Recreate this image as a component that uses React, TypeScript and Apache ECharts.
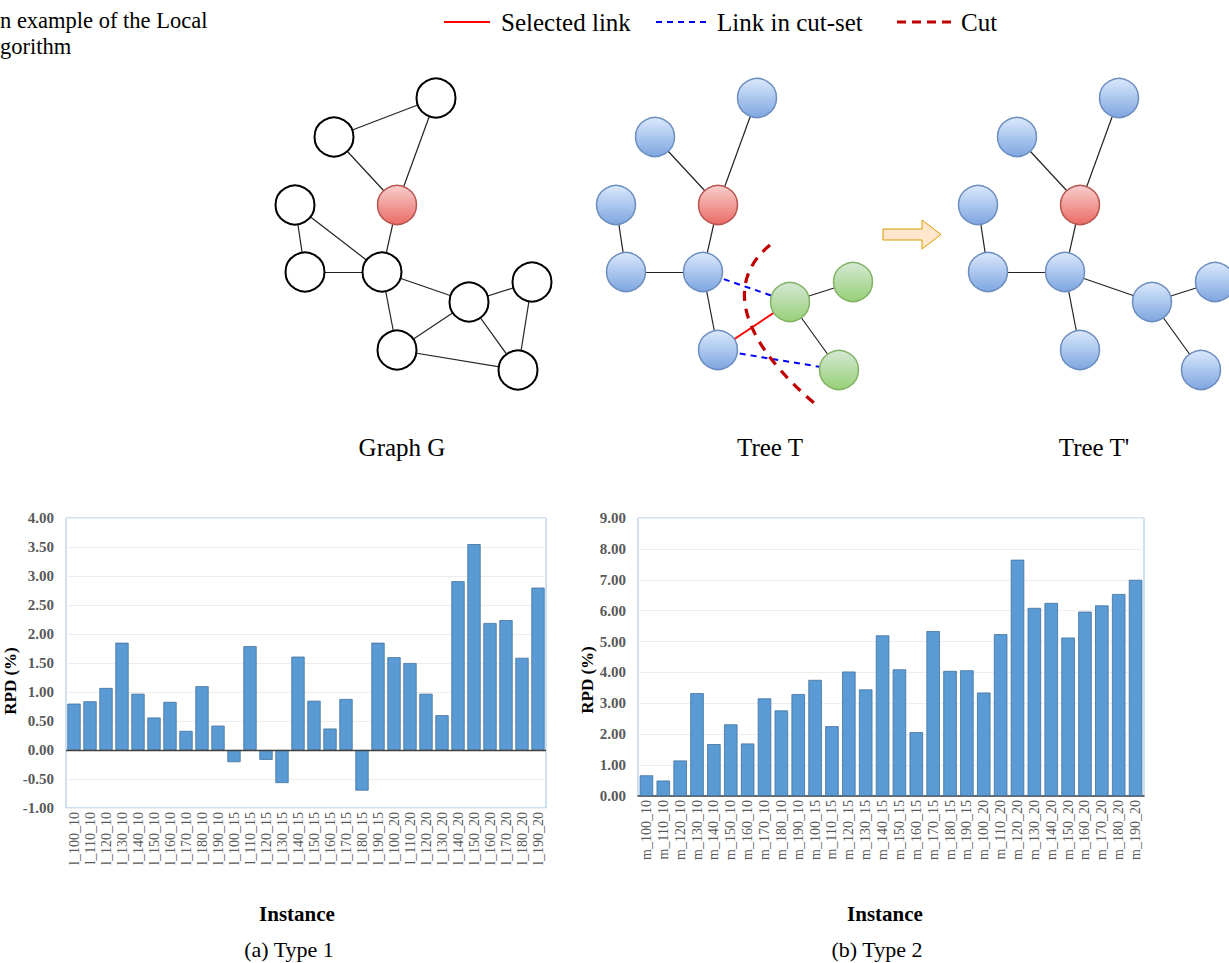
import React, { useEffect, useRef } from "react";
import * as echarts from "echarts";

const SERIF = "Liberation Serif, Times New Roman, serif";

// ---------- bar chart data ----------
const type1Instances = [
  "l_100_10", "l_110_10", "l_120_10", "l_130_10", "l_140_10", "l_150_10", "l_160_10", "l_170_10", "l_180_10", "l_190_10",
  "l_100_15", "l_110_15", "l_120_15", "l_130_15", "l_140_15", "l_150_15", "l_160_15", "l_170_15", "l_180_15", "l_190_15",
  "l_100_20", "l_110_20", "l_120_20", "l_130_20", "l_140_20", "l_150_20", "l_160_20", "l_170_20", "l_180_20", "l_190_20",
];
const type1Rpd = [
  0.8, 0.84, 1.07, 1.85, 0.97, 0.56, 0.83, 0.33, 1.1, 0.42,
  -0.21, 1.79, -0.17, -0.57, 1.61, 0.85, 0.37, 0.88, -0.7, 1.85,
  1.6, 1.5, 0.97, 0.6, 2.91, 3.55, 2.19, 2.24, 1.59, 2.8,
];
const type2Instances = [
  "m_100_10", "m_110_10", "m_120_10", "m_130_10", "m_140_10", "m_150_10", "m_160_10", "m_170_10", "m_180_10", "m_190_10",
  "m_100_15", "m_110_15", "m_120_15", "m_130_15", "m_140_15", "m_150_15", "m_160_15", "m_170_15", "m_180_15", "m_190_15",
  "m_100_20", "m_110_20", "m_120_20", "m_130_20", "m_140_20", "m_150_20", "m_160_20", "m_170_20", "m_180_20", "m_190_20",
];
const type2Rpd = [
  0.67, 0.5, 1.15, 3.33, 1.68, 2.32, 1.7, 3.16, 2.77, 3.3,
  3.76, 2.26, 4.03, 3.45, 5.2, 4.1, 2.07, 5.34, 4.05, 4.07,
  3.35, 5.24, 7.65, 6.09, 6.25, 5.13, 5.97, 6.17, 6.54, 7.0,
];

// ---------- diagram data (page coordinates of Graph G; the trees reuse the layout) ----------
const baseNodes = [
  { id: "a", x: 436, y: 98 },
  { id: "b", x: 334, y: 137 },
  { id: "c", x: 397, y: 205 },
  { id: "d", x: 295, y: 205 },
  { id: "e", x: 305, y: 272 },
  { id: "f", x: 382, y: 272 },
  { id: "g", x: 469, y: 302 },
  { id: "h", x: 532, y: 282 },
  { id: "i", x: 397, y: 350 },
  { id: "j", x: 518, y: 370 },
];
const diagramOffsets = [0, 321, 683];
const rootNode = "c";
const greenNodesT = ["g", "h", "j"];
const graphEdges = [
  ["a", "b"], ["a", "c"], ["b", "c"], ["d", "f"], ["d", "e"], ["e", "f"], ["c", "f"],
  ["f", "g"], ["f", "i"], ["g", "h"], ["g", "i"], ["g", "j"], ["h", "j"], ["i", "j"],
];
const treeTEdges = [
  ["a", "c"], ["b", "c"], ["c", "f"], ["d", "e"], ["e", "f"], ["f", "i"], ["g", "h"], ["g", "j"],
];
const treeTSelected = [["i", "g"]];
const treeTCutSet = [["f", "g"], ["i", "j"]];
const treeT2Edges = [
  ["a", "c"], ["b", "c"], ["c", "f"], ["d", "e"], ["e", "f"], ["f", "i"], ["f", "g"], ["g", "h"], ["g", "j"],
];

const grad = (top: string, bottom: string) =>
  new echarts.graphic.LinearGradient(0, 0, 0, 1, [
    { offset: 0, color: top },
    { offset: 1, color: bottom },
  ]);

export default function App() {
  const ref = useRef<HTMLDivElement>(null);

  useEffect(() => {
    document.body.style.margin = "0";
    if (!ref.current) return;
    const chart = echarts.init(ref.current, undefined, { renderer: "svg" });

    const blue = { color: grad("#dae8fc", "#7ea6e0"), borderColor: "#6c8ebf", borderWidth: 1.5 };
    const red = { color: grad("#f8cecc", "#ea6b66"), borderColor: "#b85450", borderWidth: 1.5 };
    const green = { color: grad("#d5e8d4", "#97d077"), borderColor: "#82b366", borderWidth: 1.5 };
    const white = { color: "#ffffff", borderColor: "#000000", borderWidth: 2 };

    const nodesFor = (offset: number, styleOf: (id: string) => any) =>
      baseNodes.map((n) => ({ name: n.id, value: [n.x + offset, n.y], itemStyle: styleOf(n.id) }));

    const edgeLine = { color: "#222222", width: 1.2, opacity: 1, curveness: 0 };
    const links = (list: string[][], style: any = {}) =>
      list.map(([s, t]) => ({ source: s, target: t, lineStyle: { ...edgeLine, ...style } }));

    const graphBase = {
      type: "graph",
      layout: "none",
      coordinateSystem: "cartesian2d",
      xAxisIndex: 2,
      yAxisIndex: 2,
      symbol: "circle",
      symbolSize: 39,
      silent: true,
      roam: false,
      label: { show: false },
      emphasis: { disabled: true },
      lineStyle: edgeLine,
      z: 3,
    };

    const axisLabelX = { rotate: 90, interval: 0, margin: 4, fontSize: 14, color: "#595959", fontFamily: SERIF };
    const axisLabelY = {
      formatter: (v: number) => v.toFixed(2),
      fontWeight: "bold",
      fontSize: 15,
      color: "#595959",
      fontFamily: SERIF,
      margin: 12,
    };
    const nameX = { fontWeight: "bold", fontSize: 21, color: "#000", fontFamily: SERIF };
    const nameY = { fontWeight: "bold", fontSize: 17, color: "#000", fontFamily: SERIF };
    const splitLine = { show: true, lineStyle: { color: "#eeeeee", width: 1 } };
    const barStyle = { color: "#5b9bd5", borderColor: "#41719c", borderWidth: 0.8 };

    const txt = (text: string, x: number, y: number, size: number, align = "left", weight = "normal") => ({
      type: "text",
      x,
      y,
      silent: true,
      style: {
        text,
        fill: "#000",
        fontSize: size,
        fontFamily: SERIF,
        fontWeight: weight,
        align,
        verticalAlign: "middle",
      },
    });

    const option: any = {
      animation: false,
      textStyle: { fontFamily: SERIF },
      grid: [
        { left: 66, top: 518, width: 480, height: 290, show: true, borderColor: "#9dc3e6", borderWidth: 1, containLabel: false },
        { left: 638, top: 518, width: 506, height: 278, show: true, borderColor: "#9dc3e6", borderWidth: 1, containLabel: false },
        { left: 0, top: 0, width: 1229, height: 963, show: false },
      ],
      xAxis: [
        {
          gridIndex: 0,
          type: "category",
          data: type1Instances,
          axisLine: { show: false, onZero: false },
          axisTick: { show: false },
          axisLabel: axisLabelX,
          name: "Instance",
          nameLocation: "middle",
          nameGap: 95,
          nameTextStyle: { ...nameX, padding: [0, 18, 0, 0] },
        },
        {
          gridIndex: 1,
          type: "category",
          data: type2Instances,
          axisLine: { show: true, onZero: false, lineStyle: { color: "#404040", width: 1.5 } },
          axisTick: { show: false },
          axisLabel: axisLabelX,
          name: "Instance",
          nameLocation: "middle",
          nameGap: 107,
          nameTextStyle: { ...nameX, padding: [0, 12, 0, 0] },
        },
        { gridIndex: 2, type: "value", min: 0, max: 1229, show: false },
      ],
      yAxis: [
        {
          gridIndex: 0,
          type: "value",
          min: -1,
          max: 4,
          interval: 0.5,
          axisLine: { show: false },
          axisTick: { show: false },
          axisLabel: axisLabelY,
          splitLine,
          name: "RPD (%)",
          nameLocation: "middle",
          nameGap: 40,
          nameTextStyle: { ...nameY, padding: [0, 36, 0, 0] },
        },
        {
          gridIndex: 1,
          type: "value",
          min: 0,
          max: 9,
          interval: 1,
          axisLine: { show: false },
          axisTick: { show: false },
          axisLabel: axisLabelY,
          splitLine,
          name: "RPD (%)",
          nameLocation: "middle",
          nameGap: 40,
          nameTextStyle: { ...nameY, padding: [0, 46, 0, 0] },
        },
        { gridIndex: 2, type: "value", min: 0, max: 963, inverse: true, show: false },
      ],
      series: [
        {
          type: "bar",
          name: "Type 1",
          xAxisIndex: 0,
          yAxisIndex: 0,
          data: type1Rpd,
          barCategoryGap: "17%",
          itemStyle: barStyle,
          silent: true,
          markLine: {
            silent: true,
            symbol: "none",
            label: { show: false },
            lineStyle: { color: "#404040", width: 1.3, type: "solid" },
            data: [{ yAxis: 0 }],
          },
        },
        {
          type: "bar",
          name: "Type 2",
          xAxisIndex: 1,
          yAxisIndex: 1,
          data: type2Rpd,
          barCategoryGap: "20%",
          itemStyle: barStyle,
          silent: true,
        },
        {
          ...graphBase,
          name: "Graph G",
          data: nodesFor(diagramOffsets[0], (id) => (id === rootNode ? red : white)),
          links: links(graphEdges),
        },
        {
          ...graphBase,
          name: "Tree T",
          data: nodesFor(diagramOffsets[1], (id) =>
            id === rootNode ? red : greenNodesT.includes(id) ? green : blue
          ),
          links: [
            ...links(treeTEdges),
            ...links(treeTSelected, { color: "#ff0000", width: 2 }),
            ...links(treeTCutSet, { color: "#0000ff", width: 2, type: [6, 5] }),
          ],
        },
        {
          ...graphBase,
          name: "Tree T'",
          data: nodesFor(diagramOffsets[2], (id) => (id === rootNode ? red : blue)),
          links: links(treeT2Edges),
        },
      ],
      graphic: [
        // caption fragment (cut at the left edge)
        txt("n example of the Local", 0, 20, 22.5),
        txt("gorithm", 0, 46, 22.5),
        // legend
        { type: "line", silent: true, shape: { x1: 444, y1: 22, x2: 490, y2: 22 }, style: { stroke: "#ff0000", lineWidth: 2 } },
        txt("Selected link", 501, 22, 25),
        {
          type: "line",
          silent: true,
          shape: { x1: 656, y1: 22, x2: 706, y2: 22 },
          style: { stroke: "#0000ff", lineWidth: 2, lineDash: [6, 5] },
        },
        txt("Link in cut-set", 717, 22, 25),
        {
          type: "line",
          silent: true,
          shape: { x1: 897, y1: 22, x2: 952, y2: 22 },
          style: { stroke: "#c00000", lineWidth: 3, lineDash: [9, 6] },
        },
        txt("Cut", 961, 22, 25),
        // cut curve
        {
          type: "bezierCurve",
          silent: true,
          z: 10,
          shape: { x1: 770, y1: 245, cpx1: 725, cpy1: 282, cpx2: 738, cpy2: 340, x2: 820, y2: 408 },
          style: { stroke: "#c00000", lineWidth: 3.2, lineDash: [10, 8], fill: null },
        },
        // arrow
        {
          type: "polygon",
          silent: true,
          shape: {
            points: [[883, 229], [922, 229], [922, 220], [941, 234.5], [922, 249], [922, 240], [883, 240]],
          },
          style: { fill: "#ffe6cc", stroke: "#d79b00", lineWidth: 1 },
        },
        // diagram captions
        txt("Graph G", 402, 447, 25, "center"),
        txt("Tree T", 770, 447, 25, "center"),
        txt("Tree T'", 1094, 447, 25, "center"),
        // subfigure captions
        txt("(a) Type 1", 289, 949, 22, "center"),
        txt("(b) Type 2", 877, 949, 22, "center"),
      ],
    };

    chart.setOption(option);
    return () => chart.dispose();
  }, []);

  return (
    <div
      ref={ref}
      style={{ position: "fixed", left: 0, top: 0, width: 1229, height: 963, background: "#ffffff" }}
    />
  );
}
